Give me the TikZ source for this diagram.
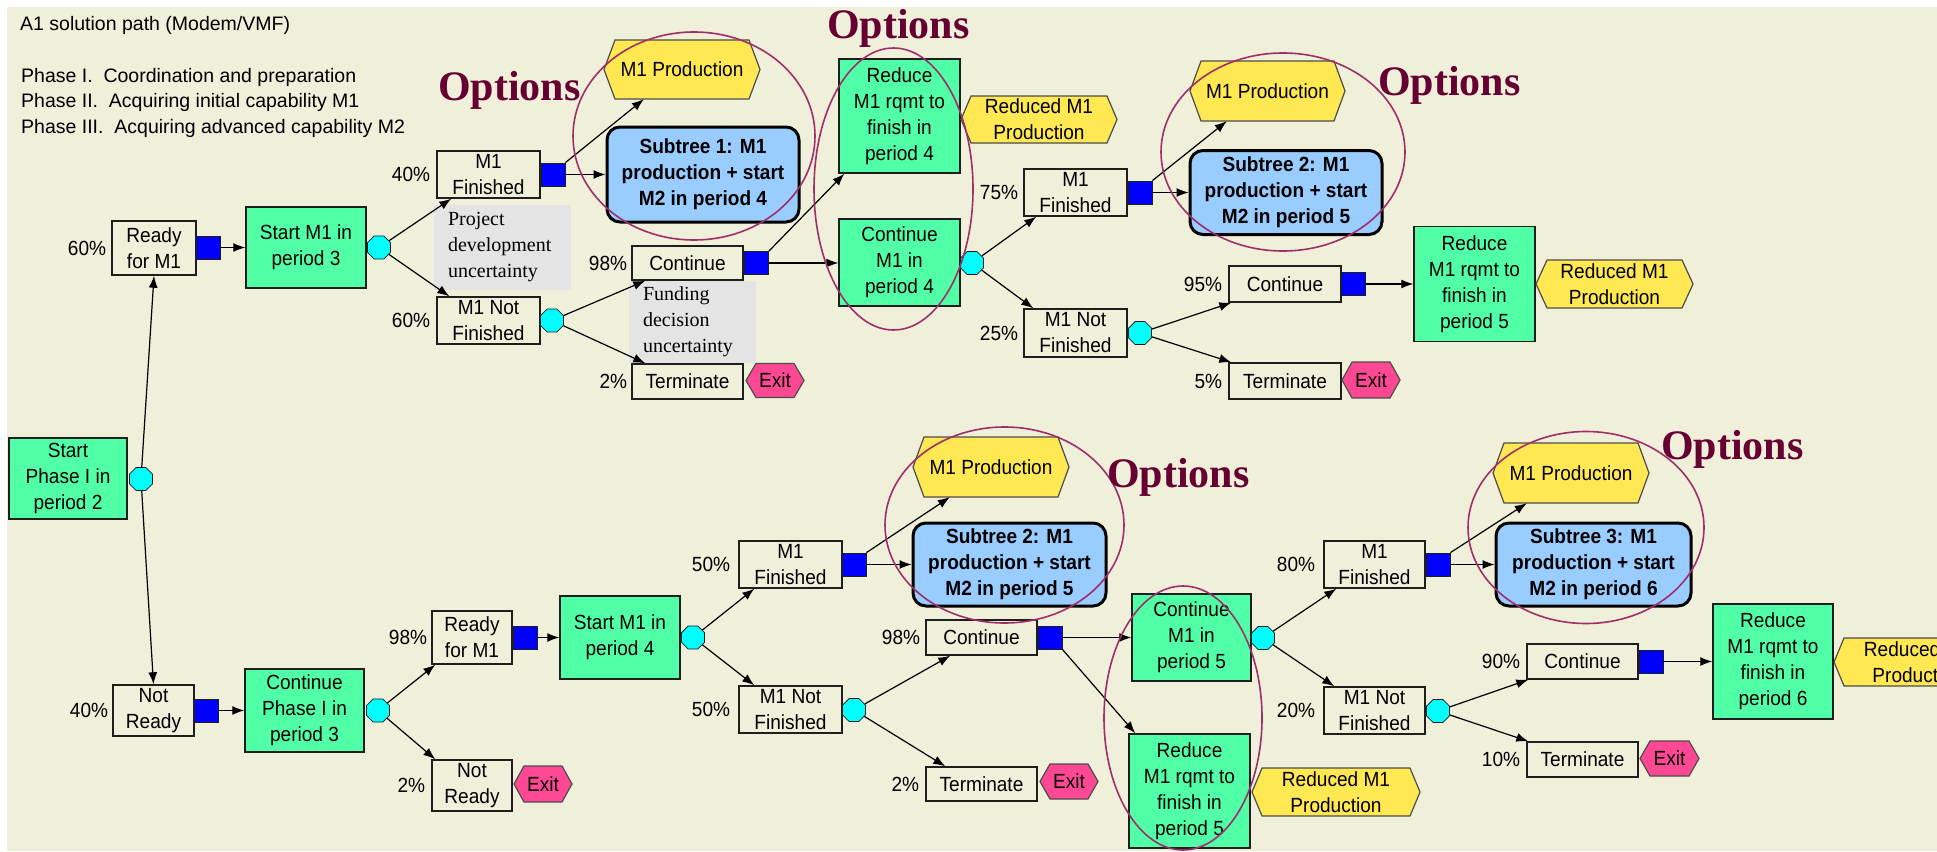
\documentclass[tikz,border=0pt]{standalone}
\usepackage{fontspec}
\setmainfont{Liberation Sans}
\newfontfamily\boxfont[FakeStretch=0.93]{Liberation Sans}
\newfontfamily\seriffont{Liberation Serif}
\usetikzlibrary{arrows.meta,calc,shapes.geometric,positioning}
\definecolor{bgc}{RGB}{240,239,218}
\definecolor{greenc}{RGB}{80,255,166}
\definecolor{yellowc}{RGB}{255,232,82}
\definecolor{pinkc}{RGB}{255,72,148}
\definecolor{subc}{RGB}{153,204,255}
\definecolor{grayc}{RGB}{228,228,228}
\definecolor{ellc}{RGB}{158,47,106}
\definecolor{optc}{RGB}{102,0,51}
\definecolor{bluec}{RGB}{0,0,255}
\definecolor{cyanc}{RGB}{0,255,255}
\definecolor{edgec}{RGB}{30,30,30}
\newcommand\myhex[6]{%
  \path[#1] ({#2-#4/2},#3) -- ({#2-#4/2+#6},{#3-#5/2}) -- ({#2+#4/2-#6},{#3-#5/2}) -- ({#2+#4/2},#3) -- ({#2+#4/2-#6},{#3+#5/2}) -- ({#2-#4/2+#6},{#3+#5/2}) -- cycle;}
\tikzset{
  sz/.style 2 args={minimum width=#1, minimum height=#2},
  txt/.style={font=\boxfont\fontsize{20.5}{26}\selectfont, align=center, inner sep=0pt, text=black},
  hdr/.style={font=\fontsize{19.5}{26}\selectfont, inner sep=0pt, anchor=base west},
  ev/.style={txt, draw=edgec, line width=1.4pt},
  act/.style={txt, draw=edgec, line width=1.4pt, fill=greenc},
  dec/.style={draw=edgec, line width=0.8pt, fill=bluec, minimum width=24, minimum height=23, inner sep=0pt},
  chn/.style={regular polygon, regular polygon sides=8, draw=edgec, line width=0.8pt, fill=cyanc, minimum size=25, inner sep=0pt},
  sub/.style={txt, font=\boxfont\fontsize{20.5}{26}\selectfont\bfseries, draw=black, line width=3pt, fill=subc, rounded corners=13pt},
  lab/.style={font=\seriffont\fontsize{20}{26}\selectfont, fill=grayc, align=left, inner xsep=14pt, inner ysep=0pt},
  pct/.style={font=\boxfont\fontsize{20.5}{26}\selectfont, inner sep=0pt},
  hexy/.style={fill=yellowc, draw=black!70, line width=1.2pt},
  hexp/.style={fill=pinkc, draw=black!70, line width=1.2pt},
  hext/.style={txt},
  opt/.style={font=\seriffont\bfseries\fontsize{42}{42}\selectfont, text=optc, inner sep=0pt, anchor=base west},
  ell/.style={draw=ellc, line width=1.6pt},
  arr/.style={-{Latex[length=12pt,width=9pt]}, line width=1.2pt, draw=black}
}
\begin{document}
\begin{tikzpicture}[x=1pt,y=-1pt]
\useasboundingbox (0,0) rectangle (1937,851);
\clip (0,0) rectangle (1937,851);
\fill[white] (0,0) rectangle (1937,851);
\fill[bgc] (7,7) rectangle (1937,851);

% header
\node[hdr] (title) at (20,31) {A1 solution path (Modem/VMF)};
\node[hdr] (ph1) at (21,82) {Phase I.\ \ Coordination and preparation};
\node[hdr] (ph2) at (21,107) {Phase II.\ \ Acquiring initial capability M1};
\node[hdr] (ph3) at (21,133) {Phase III.\ \ Acquiring advanced capability M2};

% grey labels
\node[lab, text width=109, minimum height=85] (proj) at (502.5,247.5) {Project\\development\\uncertainty};
\node[lab, text width=99, minimum height=82] (fund) at (692.5,322) {Funding\\decision\\uncertainty};

% ---------- upper tree ----------
\node[act, sz={118}{81}] (sp1) at (68,478.5) {Start\\Phase I in\\period 2};
\node[chn] (c0) at (141,479) {};
\node[ev, sz={84}{54}] (rdyU) at (154,248) {Ready\\for M1};
\node[pct, left=5pt of rdyU] {60\%};
\node[dec] (dU1) at (208.5,247.5) {};
\node[act, sz={120}{81}] (sm3) at (306,247.5) {Start M1 in\\period 3};
\node[chn] (c1) at (379,247.5) {};
\node[ev, sz={103}{47}] (finU) at (488.5,174.5) {M1\\Finished};
\node[pct, left=6pt of finU] {40\%};
\node[dec] (dU2) at (553,174.5) {};
\node[ev, sz={103}{47}] (nfinU) at (488.5,320.5) {M1 Not\\Finished};
\node[pct, left=6pt of nfinU] {60\%};
\node[chn] (c2) at (552,320.5) {};

\myhex{hexy}{682}{69.5}{156}{59}{11}
\node[hext, sz={134}{59}] (prod1) at (682,69.5) {M1 Production};
\node[sub, sz={192}{95}] (sub1) at (703,174.5) {Subtree 1: M1\\production + start\\M2 in period 4};

\node[act, sz={121}{114}] (red4) at (899.5,116) {Reduce\\M1 rqmt to\\finish in\\period 4};
\myhex{hexy}{1039}{119.5}{156}{47}{10}
\node[hext, sz={136}{47}] (rprod4) at (1039,119.5) {Reduced M1\\Production};
\node[act, sz={121}{87}] (cont4) at (899.5,262.5) {Continue\\M1 in\\period 4};

\node[ev, sz={111}{34}] (contU) at (687.5,263) {Continue};
\node[pct, left=4pt of contU] {98\%};
\node[dec] (dU3) at (756.5,263) {};
\node[ev, sz={111}{35}] (termU) at (687.5,381.5) {Terminate};
\node[pct, left=4pt of termU] {2\%};
\myhex{hexp}{775}{380.5}{58}{34}{10}
\node[hext, sz={38}{34}] (exitU) at (775,380.5) {Exit};

\node[chn] (c3) at (972,263) {};
\node[ev, sz={103}{47}] (fin75) at (1075.5,192.5) {M1\\Finished};
\node[pct, left=5pt of fin75] {75\%};
\node[dec] (dU4) at (1140,192.5) {};
\node[ev, sz={103}{48}] (nfin25) at (1075.5,333) {M1 Not\\Finished};
\node[pct, left=5pt of nfin25] {25\%};
\node[chn] (c4) at (1140,333) {};

\myhex{hexy}{1267.5}{91}{155}{60}{11}
\node[hext, sz={133}{60}] (prod3) at (1267.5,91) {M1 Production};
\node[sub, sz={192}{84}] (sub2U) at (1286,192.5) {Subtree 2: M1\\production + start\\M2 in period 5};
\node[ev, sz={112}{36}] (cont95) at (1285,284) {Continue};
\node[pct, left=6pt of cont95] {95\%};
\node[dec] (dU5) at (1353,284) {};
\node[ev, sz={112}{36}] (term5) at (1285,381) {Terminate};
\node[pct, left=6pt of term5] {5\%};
\myhex{hexp}{1371}{380}{58}{36}{10}
\node[hext, sz={38}{36}] (exitU2) at (1371,380) {Exit};
\node[act, sz={121}{115}] (red5U) at (1474.5,284) {Reduce\\M1 rqmt to\\finish in\\period 5};
\myhex{hexy}{1614.5}{284}{157}{48}{11}
\node[hext, sz={135}{48}] (rprod5U) at (1614.5,284) {Reduced M1\\Production};

% ---------- lower tree ----------
\node[ev, sz={81}{51}] (nrdy) at (153.5,710.5) {Not\\Ready};
\node[pct, left=4pt of nrdy] {40\%};
\node[dec] (dB1) at (206.5,710.5) {};
\node[act, sz={119}{83}] (cp3) at (304.5,710.5) {Continue\\Phase I in\\period 3};
\node[chn] (c5) at (378,710.5) {};
\node[ev, sz={80}{53}] (rdy98) at (472,637.5) {Ready\\for M1};
\node[pct, left=4pt of rdy98] {98\%};
\node[dec] (dB2) at (525.5,637.5) {};
\node[ev, sz={80}{51}] (nrdy2) at (472,785.5) {Not\\Ready};
\node[pct, left=6pt of nrdy2] {2\%};
\myhex{hexp}{543}{784}{58}{36}{10}
\node[hext, sz={38}{36}] (exitB1) at (543,784) {Exit};
\node[act, sz={120}{83}] (sm4) at (620,637.5) {Start M1 in\\period 4};
\node[chn] (c6) at (693,637.5) {};
\node[ev, sz={103}{47}] (fin50) at (790.5,564.5) {M1\\Finished};
\node[pct, left=8pt of fin50] {50\%};
\node[dec] (dB3) at (854,564.5) {};
\node[ev, sz={103}{47}] (nfin50) at (790.5,709.5) {M1 Not\\Finished};
\node[pct, left=8pt of nfin50] {50\%};
\node[chn] (c7) at (854,710) {};

\myhex{hexy}{991}{467}{156}{60}{11}
\node[hext, sz={134}{60}] (prodB1) at (991,467) {M1 Production};
\node[sub, sz={193}{83}] (sub2B) at (1009.5,564.5) {Subtree 2: M1\\production + start\\M2 in period 5};
\node[ev, sz={111}{35}] (cont98B) at (981.5,637.5) {Continue};
\node[pct, left=5pt of cont98B] {98\%};
\node[dec] (dB4) at (1050,637.5) {};
\node[ev, sz={111}{34}] (term2B) at (981.5,784) {Terminate};
\node[pct, left=6pt of term2B] {2\%};
\myhex{hexp}{1069}{781.5}{58}{35}{10}
\node[hext, sz={38}{35}] (exitB2) at (1069,781.5) {Exit};

\node[act, sz={119}{87}] (cont5) at (1191.5,637.5) {Continue\\M1 in\\period 5};
\node[act, sz={121}{114}] (red5B) at (1189.5,791) {Reduce\\M1 rqmt to\\finish in\\period 5};
\myhex{hexy}{1336}{792}{168}{48}{10}
\node[hext, sz={148}{48}] (rprodB) at (1336,792) {Reduced M1\\Production};
\node[chn] (c8) at (1263,638) {};
\node[ev, sz={101}{47}] (fin80) at (1374.5,564.5) {M1\\Finished};
\node[pct, left=8pt of fin80] {80\%};
\node[dec] (dB5) at (1438,564.5) {};
\node[ev, sz={101}{47}] (nfin20) at (1374.5,710.5) {M1 Not\\Finished};
\node[pct, left=8pt of nfin20] {20\%};
\node[chn] (c9) at (1438,711) {};

\myhex{hexy}{1571}{473}{156}{60}{11}
\node[hext, sz={134}{60}] (prodB2) at (1571,473) {M1 Production};
\node[sub, sz={195}{83}] (sub3) at (1593.5,564.5) {Subtree 3: M1\\production + start\\M2 in period 6};
\node[ev, sz={111}{35}] (cont90) at (1582.5,661.5) {Continue};
\node[pct, left=6pt of cont90] {90\%};
\node[dec] (dB6) at (1651,661.5) {};
\node[ev, sz={111}{35}] (term10) at (1582.5,759.5) {Terminate};
\node[pct, left=6pt of term10] {10\%};
\myhex{hexp}{1669.5}{758.5}{59}{35}{10}
\node[hext, sz={39}{35}] (exitB3) at (1669.5,758.5) {Exit};
\node[act, sz={120}{115}] (red6) at (1773,661.5) {Reduce\\M1 rqmt to\\finish in\\period 6};
\myhex{hexy}{1918}{662}{168}{48}{10}
\node[hext, sz={148}{48}] (rprod6) at (1918,662) {Reduced M1\\Production};

% ---------- connectors ----------
\draw[arr] (c0) -- (rdyU.south);
\draw[arr] (c0) -- (nrdy.north);
\draw[arr] (dU1) -- (sm3);
\draw[arr] (c1) -- ($(finU.south west)+(15,0)$);
\draw[arr] (c1) -- ($(nfinU.north west)+(13,0)$);
\draw[arr] (dU2.north east) -- ($(prod1.south west)+(29,0)$);
\draw[arr] (dU2) -- (sub1);
\draw[arr] (c2) -- ($(contU.south west)+(14,0)$);
\draw[arr] (c2) -- ($(termU.north west)+(14,0)$);
\draw[arr] (dU3.north east) -- ($(red4.south west)+(6,0)$);
\draw[arr] (dU3.east) -- (dU3.east -| cont4.west);
\draw[arr] (c3) -- ($(fin75.south west)+(13,0)$);
\draw[arr] (c3) -- ($(nfin25.north west)+(10,0)$);
\draw[arr] (dU4.north east) -- ($(prod3.south west)+(26,0)$);
\draw[arr] (dU4) -- (sub2U);
\draw[arr] (c4) -- ($(cont95.south west)+(3,0)$);
\draw[arr] (c4) -- ($(term5.north west)+(3,0)$);
\draw[arr] (dU5) -- (red5U);

\draw[arr] (dB1) -- (cp3);
\draw[arr] (c5) -- ($(rdy98.south west)+(4,0)$);
\draw[arr] (c5) -- ($(nrdy2.north west)+(4,0)$);
\draw[arr] (dB2) -- (sm4);
\draw[arr] (c6) -- ($(fin50.south west)+(16,0)$);
\draw[arr] (c6) -- ($(nfin50.north west)+(16,0)$);
\draw[arr] (dB3.north east) -- ($(prodB1.south west)+(26,0)$);
\draw[arr] (dB3) -- (sub2B);
\draw[arr] (c7) -- ($(cont98B.south west)+(25,0)$);
\draw[arr] (c7) -- ($(term2B.north west)+(20,0)$);
\draw[arr] (dB4) -- (cont5);
\draw[arr] (dB4.south east) -- ($(red5B.north west)+(7,0)$);
\draw[arr] (c8) -- ($(fin80.south west)+(13,0)$);
\draw[arr] (c8) -- ($(nfin20.north west)+(11,0)$);
\draw[arr] (dB5.north east) -- ($(prodB2.south west)+(23,0)$);
\draw[arr] (dB5) -- (sub3);
\draw[arr] (c9) -- ($(cont90.south west)+(2,0)$);
\draw[arr] (c9) -- ($(term10.north west)+(2,0)$);
\draw[arr] (dB6) -- (red6);

% ---------- option ellipses ----------
\draw[ell] (694,136) ellipse [x radius=121pt, y radius=104pt];
\draw[ell] (893.5,189) ellipse [x radius=79.5pt, y radius=141pt];
\draw[ell] (1283,152) ellipse [x radius=122pt, y radius=99pt];
\draw[ell] (1004.5,525) ellipse [x radius=119.5pt, y radius=98pt];
\draw[ell] (1183,718) ellipse [x radius=79pt, y radius=132pt];
\draw[ell] (1586,527.5) ellipse [x radius=118pt, y radius=96pt];

\node[opt] (o1) at (438,100) {Options};
\node[opt] (o2) at (827,38) {Options};
\node[opt] (o3) at (1378,95) {Options};
\node[opt] (o4) at (1107,487) {Options};
\node[opt] (o5) at (1661,459) {Options};
\end{tikzpicture}
\end{document}
